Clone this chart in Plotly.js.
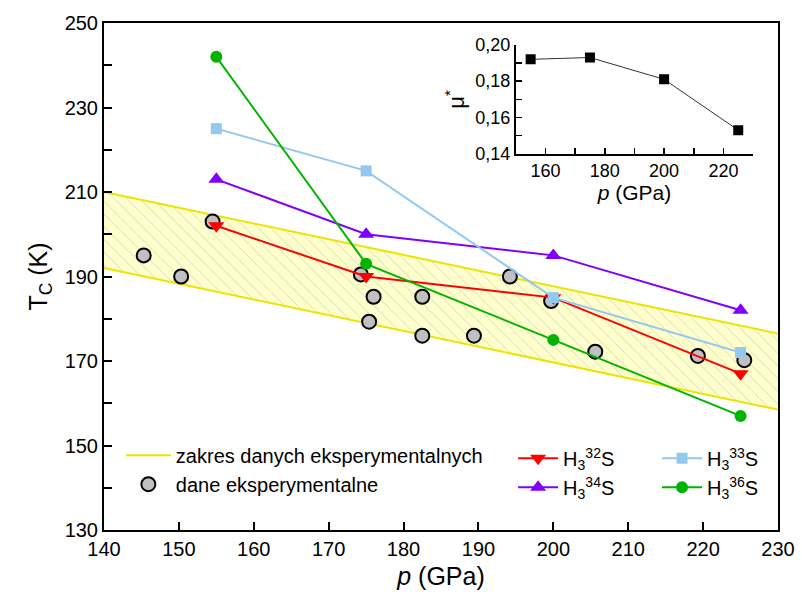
<!DOCTYPE html>
<html>
<head>
<meta charset="utf-8">
<script src="https://cdn.plot.ly/plotly-3.0.1.min.js"></script>
<style>html,body{margin:0;padding:0;background:#fff}#chart{width:802px;height:599px}</style>
</head>
<body>
<div id="chart"></div>
<script>
// Experimental range band (edges)
const bandP = [140, 230];
const bandUpper = [210, 176.5];
const bandLower = [192, 158.5];

// Experimental data
const expP  = [145.3, 150.3, 154.5, 174.3, 175.4, 176.0, 182.5, 182.5, 189.4, 194.2, 199.7, 205.6, 219.3, 225.5];
const expTc = [195.0, 190.0, 203.0, 190.5, 179.3, 185.2, 185.2, 176.0, 176.0, 190.0, 184.2, 172.2, 171.2, 170.2];

// Calculated Tc for isotopes
const calcP = [155, 175, 200, 225];
const tc32 = [202, 190, 185, 167];
const tc33 = [225, 215, 185, 172];
const tc34 = [213, 200, 195, 182];
const tc36 = [242, 193, 175, 157];

// Inset: mu*
const muP = [155, 175, 200, 225];
const muStar = [0.192, 0.193, 0.181, 0.153];

const FONT = 'Arial, "Liberation Sans", sans-serif';

const traces = [
  {x: bandP, y: bandUpper, mode: 'lines', line: {color: '#ece400', width: 2},
   name: 'zakres danych eksperymentalnych', legend: 'legend'},
  {x: bandP, y: bandLower, mode: 'lines', line: {color: '#ece400', width: 2},
   fill: 'tonexty', fillcolor: '#ffffcc',
   fillpattern: {shape: '\\', bgcolor: '#ffffcc', fgcolor: '#d4d4cc', size: 9, solidity: 0.1},
   showlegend: false},
  {x: expP, y: expTc, mode: 'markers', name: 'dane eksperymentalne', legend: 'legend',
   marker: {symbol: 'circle', size: 14, color: '#c0c0c0', line: {color: '#000', width: 2}}},
  {x: calcP, y: tc32, mode: 'lines+markers', name: 'H<sub>3</sub><sup>32</sup>S', legend: 'legend2', legendgroup: 'a',
   line: {color: '#ff0000', width: 2}, marker: {symbol: 'triangle-down', size: 14, color: '#ff0000'}},
  {x: calcP, y: tc34, mode: 'lines+markers', name: 'H<sub>3</sub><sup>34</sup>S', legend: 'legend2', legendgroup: 'b',
   line: {color: '#8000ff', width: 2}, marker: {symbol: 'triangle-up', size: 14, color: '#8000ff'}},
  {x: calcP, y: tc33, mode: 'lines+markers', name: 'H<sub>3</sub><sup>33</sup>S', legend: 'legend3', legendgroup: 'c',
   line: {color: '#94c8ee', width: 2}, marker: {symbol: 'square', size: 11, color: '#94c8ee'}},
  {x: calcP, y: tc36, mode: 'lines+markers', name: 'H<sub>3</sub><sup>36</sup>S', legend: 'legend3', legendgroup: 'd',
   line: {color: '#00b400', width: 2}, marker: {symbol: 'circle', size: 12, color: '#00b400'}},
  {x: muP, y: muStar, xaxis: 'x2', yaxis: 'y2', mode: 'lines+markers', showlegend: false,
   line: {color: '#333', width: 1}, marker: {symbol: 'square', size: 10, color: '#000'}}
];

const legendCommon = {
  bgcolor: 'rgba(0,0,0,0)', borderwidth: 0, font: {family: FONT, size: 20, color: '#000'},
  xanchor: 'left', yanchor: 'top', traceorder: 'normal', tracegroupgap: 0
};

const layout = {
  width: 802, height: 599,
  margin: {l: 104, r: 24, t: 23, b: 69},
  paper_bgcolor: '#fff', plot_bgcolor: '#fff',
  separators: ',.',
  font: {family: FONT, color: '#000'},
  xaxis: {
    range: [140, 230], tickvals: [140,150,160,170,180,190,200,210,220,230],
    ticks: 'inside', ticklen: 8, tickwidth: 2, tickcolor: '#000',
    showline: true, linewidth: 2, linecolor: '#000', mirror: true,
    showgrid: false, zeroline: false,
    tickfont: {family: FONT, size: 20},
    title: {text: '<i>p</i> (GPa)', font: {family: FONT, size: 25}, standoff: 8}
  },
  yaxis: {
    range: [130, 250], tick0: 130, dtick: 20,
    ticks: 'inside', ticklen: 8, tickwidth: 2, tickcolor: '#000',
    minor: {dtick: 10, ticks: 'inside', ticklen: 8, tickwidth: 2, tickcolor: '#000', showgrid: false},
    showline: true, linewidth: 2, linecolor: '#000', mirror: true,
    showgrid: false, zeroline: false,
    tickfont: {family: FONT, size: 20},
    title: {text: 'T<sub>C</sub> (K)', font: {family: FONT, size: 25}, standoff: 10}
  },
  xaxis2: {
    domain: [0.611, 0.963], anchor: 'y2', range: [150, 230],
    tick0: 160, dtick: 20, ticks: 'inside', ticklen: 6, tickwidth: 1.5, tickcolor: '#000',
    minor: {dtick: 10, ticks: 'inside', ticklen: 6, tickwidth: 1.5, tickcolor: '#000', showgrid: false},
    showline: true, linewidth: 2, linecolor: '#000', showgrid: false, zeroline: false,
    tickfont: {family: FONT, size: 18},
    title: {text: '<i>p</i> (GPa)', font: {family: FONT, size: 21}, standoff: 2}
  },
  yaxis2: {
    domain: [0.742, 0.957], anchor: 'x2', range: [0.14, 0.20],
    tick0: 0.14, dtick: 0.02, tickformat: '.2f',
    ticks: 'inside', ticklen: 6, tickwidth: 1.5, tickcolor: '#000',
    minor: {dtick: 0.01, ticks: 'inside', ticklen: 6, tickwidth: 1.5, tickcolor: '#000', showgrid: false},
    showline: true, linewidth: 2, linecolor: '#000', showgrid: false, zeroline: false,
    tickfont: {family: FONT, size: 18},
    title: {text: 'μ<sup>*</sup>', font: {family: FONT, size: 22}, standoff: 4}
  },
  legend: Object.assign({}, legendCommon, {x: 0.025, y: 0.186, itemwidth: 45}),
  legend2: Object.assign({}, legendCommon, {x: 0.607, y: 0.18, itemwidth: 40, tracegroupgap: 6}),
  legend3: Object.assign({}, legendCommon, {x: 0.8205, y: 0.18, itemwidth: 40, tracegroupgap: 6}),
  showlegend: true
};

Plotly.newPlot('chart', traces, layout, {displayModeBar: false, staticPlot: true});
</script>
</body>
</html>
